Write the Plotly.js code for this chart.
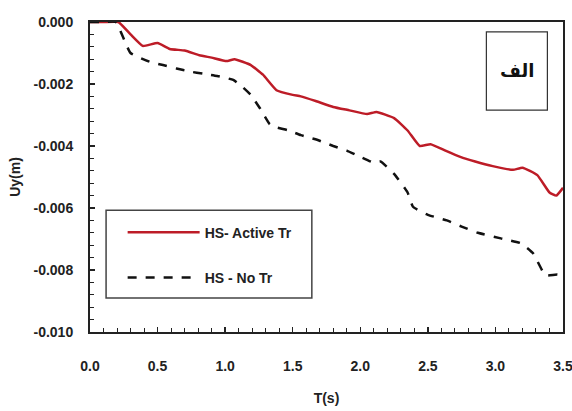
<!DOCTYPE html>
<html>
<head>
<meta charset="utf-8">
<script src="https://cdn.plot.ly/plotly-3.0.1.min.js"></script>
<style>html,body{margin:0;padding:0;background:#fff;}#chart{width:572px;height:411px;}</style>
</head>
<body>
<div id="chart"></div>
<script>
// Active Tr (red solid)
const activeT = [0, 0.1, 0.21, 0.3, 0.39, 0.5, 0.59, 0.7, 0.81, 0.9, 1.01, 1.07, 1.19, 1.28, 1.38, 1.5, 1.56, 1.67, 1.8, 1.92, 2.05, 2.12, 2.25, 2.35, 2.44, 2.52, 2.63, 2.74, 2.85, 2.98, 3.13, 3.2, 3.31, 3.4, 3.45, 3.5];
const activeU = [0, 0, 0, -0.0004, -0.00077, -0.00068, -0.00087, -0.00092, -0.00107, -0.00115, -0.00126, -0.0012, -0.00139, -0.0017, -0.0022, -0.00235, -0.0024, -0.00255, -0.00274, -0.00285, -0.00297, -0.0029, -0.0031, -0.0035, -0.004, -0.00394, -0.00415, -0.00435, -0.0045, -0.00465, -0.00477, -0.0047, -0.00494, -0.0055, -0.0056, -0.00535];
// No Tr (black dashed)
const noT = [0, 0.1, 0.19, 0.3, 0.44, 0.54, 0.64, 0.74, 0.84, 0.94, 1.06, 1.13, 1.19, 1.26, 1.33, 1.38, 1.47, 1.56, 1.68, 1.8, 1.9, 2.0, 2.1, 2.15, 2.25, 2.35, 2.39, 2.5, 2.64, 2.75, 2.87, 3.04, 3.19, 3.28, 3.37, 3.46, 3.5];
const noU = [0, 0, 0, -0.001, -0.00128, -0.00139, -0.0015, -0.0016, -0.00167, -0.00174, -0.00187, -0.0021, -0.00235, -0.0028, -0.0033, -0.0034, -0.0035, -0.00365, -0.0038, -0.004, -0.00415, -0.00435, -0.00454, -0.0045, -0.0049, -0.0055, -0.00596, -0.00622, -0.0064, -0.0066, -0.0068, -0.00698, -0.00714, -0.00747, -0.00817, -0.00815, -0.00826];

const xTickVals = [0, 0.5, 1, 1.5, 2, 2.5, 3, 3.5];
const xTickText = ["0.0", "0.5", "1.0", "1.5", "2.0", "2.5", "3.0", "3.5"];
const yTickVals = [0, -0.002, -0.004, -0.006, -0.008, -0.010];
const yTickText = ["0.000", "-0.002", "-0.004", "-0.006", "-0.008", "-0.010"];
const seriesNames = ["HS- Active Tr", "HS - No Tr"];
const panelLabel = "الف";

const fam = "Liberation Sans Narrow, Liberation Sans, sans-serif";
const tickFont = {family: fam, size: 14, color: "#222", weight: "bold"};

const traces = [
  {x: activeT, y: activeU, name: seriesNames[0], mode: "lines", legendgroup: "a",
   line: {color: "#bd1c27", width: 2.5, shape: "spline", smoothing: 0.4}},
  {x: noT, y: noU, name: seriesNames[1], mode: "lines", legendgroup: "b",
   line: {color: "#111", width: 2.5, dash: "dash", shape: "spline", smoothing: 0.4}}
];

const layout = {
  width: 572, height: 411,
  margin: {l: 90, r: 9, t: 22, b: 79},
  paper_bgcolor: "#fff", plot_bgcolor: "#fff",
  showlegend: true,
  legend: {
    x: 0.069, y: 0.372, xanchor: "left", yanchor: "top",
    borderwidth: 0, bgcolor: "rgba(0,0,0,0)",
    font: {family: fam, size: 14, color: "#222", weight: "bold"},
    itemwidth: 72, traceorder: "grouped", tracegroupgap: 24
  },
  xaxis: {
    range: [0, 3.5], tickvals: xTickVals, ticktext: xTickText,
    ticks: "inside", ticklen: 5, tickwidth: 1.5, tickcolor: "#222",
    minor: {dtick: 0.1, ticks: "inside", ticklen: 4, tickwidth: 1, tickcolor: "#222", showgrid: false},
    showline: true, linecolor: "#222", linewidth: 2, mirror: true,
    showgrid: false, zeroline: false,
    tickfont: tickFont, ticklabelstandoff: 20, ticklabeloverflow: "allow",
    title: {text: "T(s)", font: tickFont, standoff: 20}
  },
  yaxis: {
    range: [-0.010, 0], tickvals: yTickVals, ticktext: yTickText,
    ticks: "inside", ticklen: 5, tickwidth: 1.5, tickcolor: "#222",
    minor: {dtick: 0.0004, tick0: 0, ticks: "inside", ticklen: 4, tickwidth: 1, tickcolor: "#222", showgrid: false},
    showline: true, linecolor: "#222", linewidth: 2, mirror: true,
    showgrid: false, zeroline: false,
    tickfont: tickFont, ticklabelstandoff: 12,
    title: {text: "Uy(m)", font: tickFont, standoff: 10}
  },
  shapes: [
    {type: "rect", xref: "paper", yref: "paper", x0: 0.034, x1: 0.469, y0: 0.110, y1: 0.393,
     line: {color: "#444", width: 1.5}, fillcolor: "rgba(0,0,0,0)", layer: "above"},
    {type: "rect", xref: "paper", yref: "paper", x0: 0.838, x1: 0.967, y0: 0.716, y1: 0.968,
     line: {color: "#333", width: 1.2}, fillcolor: "#fff"}
  ],
  annotations: [
    {xref: "paper", yref: "paper", x: 0.902, y: 0.842, xanchor: "center", yanchor: "middle",
     text: panelLabel, showarrow: false,
     font: {family: "DejaVu Sans, sans-serif", size: 18, color: "#111", weight: "bold"}}
  ]
};

Plotly.newPlot("chart", traces, layout, {displayModeBar: false, staticPlot: true});
</script>
</body>
</html>
